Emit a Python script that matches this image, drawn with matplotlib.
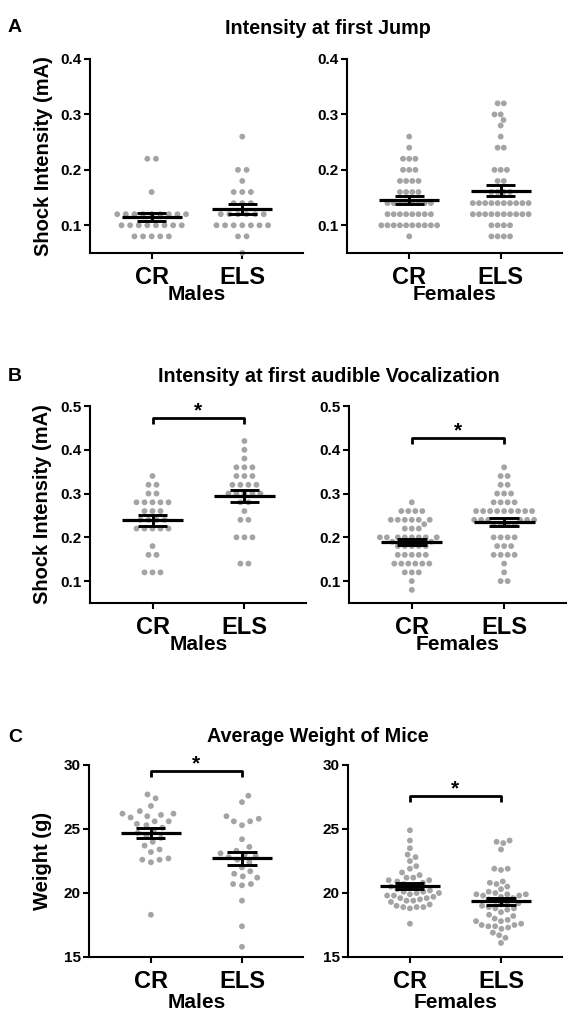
import numpy as np
import matplotlib
matplotlib.use('Agg')
import matplotlib.pyplot as plt

plt.rcParams['font.family'] = ['Liberation Sans', 'DejaVu Sans']
plt.rcParams['font.weight'] = 'bold'
plt.rcParams['axes.labelweight'] = 'bold'

groups = ['CR', 'ELS']

# Panel A: intensity at first jump (mA)
jump_m_cr = [0.22, 0.22, 0.16] + [0.12] * 9 + [0.10] * 8 + [0.08] * 5
jump_m_els = [0.26, 0.20, 0.20, 0.18] + [0.16] * 3 + [0.14] * 3 + [0.12] * 6 + [0.10] * 7 + [0.08] * 2 + [0.05]
jump_f_cr = [0.26, 0.24] + [0.22] * 3 + [0.20] * 3 + [0.18] * 4 + [0.16] * 4 + [0.14] * 8 + [0.12] * 8 + [0.10] * 10 + [0.08]
jump_f_els = [0.32, 0.32, 0.30, 0.30, 0.29, 0.28, 0.26, 0.24, 0.24] + [0.20] * 3 + [0.18] * 2 + [0.16] * 4 + [0.14] * 10 + [0.12] * 10 + [0.10] * 4 + [0.08] * 4

# Panel B: intensity at first audible vocalization (mA)
voc_m_cr = [0.34, 0.32, 0.32, 0.30, 0.30] + [0.28] * 5 + [0.26] * 3 + [0.24] * 4 + [0.22] * 5 + [0.18, 0.16, 0.16] + [0.12] * 3
voc_m_els = [0.42, 0.40, 0.38] + [0.36] * 3 + [0.34] * 3 + [0.32] * 4 + [0.30] * 5 + [0.28] * 2 + [0.26, 0.24, 0.24] + [0.20] * 3 + [0.14] * 2
voc_f_cr = [0.28] + [0.26] * 4 + [0.24] * 6 + [0.23] + [0.22] * 3 + [0.20] * 8 + [0.19] * 2 + [0.18] * 5 + [0.16] * 5 + [0.14] * 6 + [0.12] * 3 + [0.10, 0.08]
voc_f_els = [0.36, 0.34, 0.34, 0.32, 0.32] + [0.30] * 3 + [0.28] * 4 + [0.26] * 9 + [0.24] * 6 + [0.23] * 4 + [0.20] * 4 + [0.18] * 3 + [0.16] * 4 + [0.14, 0.12, 0.10, 0.10]

# Panel C: average weight (g)
wt_m_cr = [27.7, 27.4, 26.8, 26.2, 26.1, 26.0, 26.2, 26.4, 25.9, 25.6, 25.4, 25.6, 25.3, 25.1,
           24.9, 24.7, 24.5, 24.3, 24.0, 23.7, 23.4, 23.2, 22.7, 22.6, 22.4, 22.6, 18.3]
wt_m_els = [27.6, 27.1, 26.0, 25.8, 25.6, 25.6, 25.3, 24.2, 23.6, 23.3, 23.1, 23.0, 22.9, 22.8,
            22.6, 22.4, 22.0, 21.7, 21.5, 21.3, 21.2, 20.7, 20.6, 20.7, 19.4, 17.4, 15.8]
wt_f_cr = [24.9, 24.1, 23.5, 23.0, 22.8, 22.5, 22.1, 21.9, 21.6, 21.4, 21.2, 21.2, 21.0, 21.0, 20.9,
           20.8, 20.7, 20.6, 20.5, 20.5, 20.3, 20.2, 20.1, 20.1, 20.0, 20.0, 19.9, 19.8, 19.8, 19.7,
           19.6, 19.6, 19.5, 19.4, 19.4, 19.3, 19.1, 19.0, 18.9, 18.9, 18.8, 18.9, 17.6]
wt_f_els = [24.1, 24.0, 23.9, 23.4, 21.9, 21.9, 21.8, 20.9, 20.8, 20.7, 20.5, 20.3, 20.1, 20.0, 19.9,
            19.9, 19.9, 19.8, 19.8, 19.7, 19.6, 19.5, 19.4, 19.3, 19.2, 19.1, 19.0, 18.9, 18.8, 18.8,
            18.7, 18.5, 18.3, 18.2, 18.0, 17.9, 17.8, 17.8, 17.6, 17.5, 17.5, 17.4, 17.4, 17.3, 17.2,
            16.9, 16.7, 16.5, 16.1]

W, H = 574, 1029
fig = plt.figure(figsize=(W / 100, H / 100), dpi=100)

DOT = '#a4a4a4'


def swarm_offsets(values, px_per_x, px_per_y, d):
    vals = np.asarray(values, float)
    offs = np.zeros(len(vals))
    px_list, py_list = [], []

    def free(c, y):
        for px, py in zip(px_list, py_list):
            if (c - px) ** 2 + (y - py) ** 2 < d * d - 1e-6:
                return False
        return True

    for u in np.unique(vals):
        idx = np.where(vals == u)[0]
        k = len(idx)
        y = u * px_per_y
        row = [(i - (k - 1) / 2) * d for i in range(k)]
        if all(free(rx, y) for rx in row):
            for i, rx in zip(idx, row):
                offs[i] = rx
                px_list.append(rx)
                py_list.append(y)
        else:
            side = 1
            for i in idx:
                cands = [0.0]
                for px, py in zip(px_list, py_list):
                    dy = abs(y - py)
                    if dy < d:
                        dx = np.sqrt(d * d - dy * dy)
                        cands += [px + dx, px - dx]
                cands = sorted(set(cands), key=lambda c: (round(abs(c), 6), -side * np.sign(c)))
                chosen = 0.0
                for c in cands:
                    if free(c, y):
                        chosen = c
                        break
                offs[i] = chosen
                px_list.append(chosen)
                py_list.append(y)
                side = -side
    return offs / px_per_x


def axes_px(x0, x1, ytop, ybot):
    return fig.add_axes([x0 / W, 1 - ybot / H, (x1 - x0) / W, (ybot - ytop) / H])


XLIM = (-0.68, 1.67)


def panel(ax, data, ylim, yticks, ticklabels, spacing, bracket=None):
    ax.set_xlim(*XLIM)
    ax.set_ylim(*ylim)
    bb = ax.get_window_extent()
    ppx = bb.width / (XLIM[1] - XLIM[0])
    ppy = bb.height / (ylim[1] - ylim[0])
    for i, vals in enumerate(data):
        offs = swarm_offsets(vals, ppx, ppy, spacing)
        ax.scatter(i + offs, vals, s=4.2 ** 2, color=DOT, edgecolors='none', zorder=2, clip_on=False)
        v = np.asarray(vals)
        m = v.mean()
        sem = v.std(ddof=1) / np.sqrt(len(v))
        ax.hlines(m, i - 0.33, i + 0.33, color='black', lw=2.3, zorder=3)
        ax.hlines([m - sem, m + sem], i - 0.16, i + 0.16, color='black', lw=2.1, zorder=3)
        ax.vlines(i, m - sem, m + sem, color='black', lw=2.1, zorder=3)
    for s in ['top', 'right']:
        ax.spines[s].set_visible(False)
    for s in ['left', 'bottom']:
        ax.spines[s].set_linewidth(1.5)
    ax.set_yticks(yticks)
    ax.set_yticklabels(ticklabels, fontsize=11, fontweight='bold')
    ax.set_xticks([0, 1])
    ax.set_xticklabels(groups, fontsize=17, fontweight='bold')
    ax.tick_params(axis='both', length=4, width=1.5, color='black')
    ax.tick_params(axis='x', pad=5)
    ax.tick_params(axis='y', pad=2)
    if bracket is not None:
        y0, y1 = bracket
        ax.plot([0, 0, 1, 1], [y0, y1, y1, y0], color='black', lw=2.0, solid_capstyle='butt', clip_on=False)
        ax.annotate('*', xy=(0.5, y1), xytext=(0, 5), textcoords='offset points', ha='center', va='center',
                    fontsize=15, fontweight='bold')


def bottom_label(ax, text, ypx):
    ax.annotate(text, xy=(0.5, H - ypx), xycoords=('data', 'figure pixels'), ha='center', va='center',
                fontsize=15, fontweight='bold', annotation_clip=False)


def ylabel(ax, text):
    ax.set_ylabel(text, fontsize=14.5, fontweight='bold')
    ax.yaxis.set_label_coords(-0.175, 0.5)


# ---- Panel A ----
axA1 = axes_px(90, 303, 59, 253)
axA2 = axes_px(347, 562, 59, 253)
yA = [0.1, 0.2, 0.3, 0.4]
panel(axA1, [jump_m_cr, jump_m_els], (0.05, 0.4), yA, ['0.1', '0.2', '0.3', '0.4'], 8.6)
panel(axA2, [jump_f_cr, jump_f_els], (0.05, 0.4), yA, ['0.1', '0.2', '0.3', '0.4'], 6.2)
ylabel(axA1, 'Shock Intensity (mA)')
bottom_label(axA1, 'Males', 295)
bottom_label(axA2, 'Females', 295)

# ---- Panel B ----
axB1 = axes_px(90, 306, 406, 603)
axB2 = axes_px(349, 566, 406, 603)
yB = [0.1, 0.2, 0.3, 0.4, 0.5]
panel(axB1, [voc_m_cr, voc_m_els], (0.05, 0.5), yB, ['0.1', '0.2', '0.3', '0.4', '0.5'], 8.0, bracket=(0.459, 0.473))
panel(axB2, [voc_f_cr, voc_f_els], (0.05, 0.5), yB, ['0.1', '0.2', '0.3', '0.4', '0.5'], 7.0, bracket=(0.413, 0.427))
ylabel(axB1, 'Shock Intensity (mA)')
bottom_label(axB1, 'Males', 645)
bottom_label(axB2, 'Females', 645)

# ---- Panel C ----
axC1 = axes_px(89, 303, 765, 957)
axC2 = axes_px(348, 562, 765, 957)
yC = [15, 20, 25, 30]
panel(axC1, [wt_m_cr, wt_m_els], (15, 30), yC, ['15', '20', '25', '30'], 9.0, bracket=(29.06, 29.53))
panel(axC2, [wt_f_cr, wt_f_els], (15, 30), yC, ['15', '20', '25', '30'], 6.8, bracket=(27.1, 27.58))
ylabel(axC1, 'Weight (g)')
bottom_label(axC1, 'Males', 1002)
bottom_label(axC2, 'Females', 1002)

# ---- Titles and panel letters ----
for letter, title, ypx, xc in [('A', 'Intensity at first Jump', 28, 328),
                               ('B', 'Intensity at first audible Vocalization', 377, 329),
                               ('C', 'Average Weight of Mice', 737, 318)]:
    fig.text(8 / W, 1 - ypx / H, letter, fontsize=14, fontweight='bold', ha='left', va='center')
    fig.text(xc / W, 1 - ypx / H, title, fontsize=14.2, fontweight='bold', ha='center', va='center')

fig.savefig('out.png', dpi=100)
